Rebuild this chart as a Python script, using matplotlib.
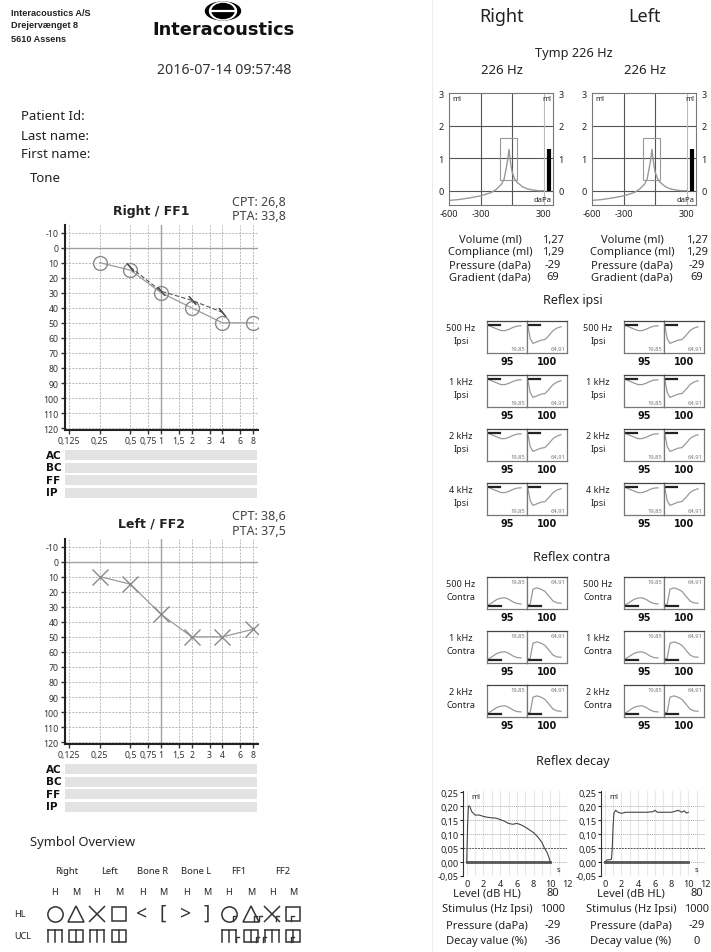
import numpy as np
import matplotlib
matplotlib.use('Agg')
import matplotlib.pyplot as plt
from matplotlib.patches import Ellipse, Rectangle

plt.rcParams['font.family'] = ['Noto Sans', 'DejaVu Sans']

# --- audiogram data ---
freqs = [0.25, 0.5, 1, 2, 4, 8]
right_ff1 = [10, 15, 30, 40, 50, 50]
right_aided_f = [0.5, 1, 2, 4]
right_aided = [13, 29, 35, 43]
left_ff2 = [10, 15, 35, 50, 50, 45]
freq_ticks = [0.125, 0.25, 0.5, 0.75, 1, 1.5, 2, 3, 4, 6, 8]
freq_labels = ['0,125', '0,25', '0,5', '0,75', '1', '1,5', '2', '3', '4', '6', '8']
db_ticks = list(range(-10, 121, 10))
row_labels = ['AC', 'BC', 'FF', 'IP']

# --- tympanometry data ---
tymp_pressure = [-600, -500, -400, -300, -200, -150, -100, -75, -55, -40, -29,
                 -18, 0, 25, 50, 100, 150, 200, 250, 300]
tymp_compliance = [-0.30, -0.27, -0.22, -0.16, -0.06, 0.04, 0.20, 0.36, 0.70, 0.98, 1.27,
                   0.95, 0.58, 0.36, 0.25, 0.12, 0.05, 0.02, 0.0, 0.0]
tymp_volume = 1.27
tymp_gradient_p = [-115, 45]
tymp_gradient_c = [0.32, 1.63]
tymp_stat_labels = ['Volume (ml)', 'Compliance (ml)', 'Pressure (daPa)', 'Gradient (daPa)']
tymp_stat_values = ['1,27', '1,29', '-29', '69']

# --- acoustic reflex data (normalised curves) ---
ipsi_rows = ['500 Hz', '1 kHz', '2 kHz', '4 kHz']
contra_rows = ['500 Hz', '1 kHz', '2 kHz']
reflex_levels = ['95', '100']
reflex_values = ['19,85', '64,91']
curve_t = [0.02, 0.08, 0.15, 0.25, 0.35, 0.45, 0.55, 0.65, 0.75, 0.85]
ipsi_95 = [0.88, 0.84, 0.80, 0.75, 0.70, 0.70, 0.74, 0.80, 0.84, 0.85]
ipsi_100 = [0.86, 0.45, 0.30, 0.35, 0.40, 0.42, 0.55, 0.70, 0.78, 0.82]
contra_95 = [0.12, 0.16, 0.22, 0.30, 0.34, 0.35, 0.30, 0.22, 0.17, 0.16]
contra_100 = [0.13, 0.15, 0.62, 0.66, 0.62, 0.55, 0.40, 0.25, 0.19, 0.18]

# --- reflex decay data ---
decay_t_right = [0, 0.1, 0.2, 0.35, 0.6, 1.0, 1.5, 2.0, 2.5, 3.0, 3.5, 4.0, 4.5, 5.0,
                 5.5, 6.0, 6.5, 7.0, 7.5, 8.0, 8.5, 9.0, 9.3, 9.6, 9.8, 10.0]
decay_right = [0.0, 0.13, 0.20, 0.20, 0.18, 0.168, 0.168, 0.163, 0.16, 0.158, 0.157, 0.152,
               0.146, 0.138, 0.135, 0.138, 0.133, 0.125, 0.115, 0.105, 0.09, 0.07, 0.05,
               0.035, 0.02, 0.0]
decay_t_left = [0, 0.3, 0.6, 0.8, 0.9, 1.0, 1.1, 1.3, 1.6, 2.0, 2.5, 3.0, 4.0, 5.0,
                5.8, 6.0, 6.3, 7.0, 8.0, 8.5, 8.8, 9.2, 9.5, 9.8, 10.0]
decay_left = [0.0, 0.008, 0.008, 0.01, 0.05, 0.13, 0.175, 0.185, 0.178, 0.174, 0.178,
              0.178, 0.178, 0.178, 0.18, 0.185, 0.178, 0.178, 0.178, 0.182, 0.185, 0.178,
              0.183, 0.175, 0.178]
decay_stim = [0, 10]
decay_labels = ['Level (dB HL)', 'Stimulus (Hz Ipsi)', 'Pressure (daPa)', 'Decay value (%)']
decay_values_right = ['80', '1000', '-29', '-36']
decay_values_left = ['80', '1000', '-29', '0']

W, H = 711, 953
fig = plt.figure(figsize=(W / 100, H / 100), dpi=100)
fig.patch.set_facecolor('white')
BOLD = dict(weight='bold', family='DejaVu Sans')


def px_axes(x0, y0, x1, y1):
    return fig.add_axes([x0 / W, 1 - y1 / H, (x1 - x0) / W, (y1 - y0) / H])


# overlay in pixel coordinates for report text
ov = fig.add_axes([0, 0, 1, 1], zorder=10)
ov.set_xlim(0, W)
ov.set_ylim(H, 0)
ov.axis('off')


def txt(x, y, s, size=8, ha='center', **kw):
    ov.text(x, y, s, fontsize=size, ha=ha, va='center', **kw)


# header
for i, line in enumerate(['Interacoustics A/S', 'Drejervænget 8', '5610 Assens']):
    txt(11, 13 + 13 * i, line, 6.6, ha='left', weight='bold', family='Liberation Sans', color='#222')
ov.add_patch(Ellipse((223, 12), 35, 18, color='black'))
ov.add_patch(Ellipse((223, 12), 27, 18, color='white'))
ov.add_patch(Ellipse((223, 12), 22, 15, color='black'))
ov.plot([211, 235], [12, 12], color='white', lw=1.6)
txt(223, 30, 'Interacoustics', 12.8, weight='bold', family='DejaVu Sans', color='#111')
txt(224, 71, '2016-07-14 09:57:48', 10.2, color='#333')
txt(21, 117, 'Patient Id:', 9.5, ha='left', color='#222')
txt(21, 136, 'Last name:', 9.5, ha='left', color='#222')
txt(21, 154, 'First name:', 9.5, ha='left', color='#222')
txt(30, 179, 'Tone', 9.5, ha='left', color='#222')
ov.plot([432, 432], [0, H], color='#eeeeee', lw=0.8)


def audiogram(top, values, marker, ms):
    ax = px_axes(65, top, 258, top + 205)
    ax.set_xscale('log', base=2)
    ax.set_xlim(0.114, 8.96)
    ax.set_ylim(121.2, -15)
    for f in freq_ticks:
        if f == 1:
            ax.axvline(f, color='#a0a0a0', lw=1.0, zorder=0)
        else:
            ax.axvline(f, color='#b0b0b0', lw=0.6, ls=(0, (2.5, 1.5)), zorder=0)
    for d in db_ticks:
        if d == 0:
            ax.axhline(d, color='#a0a0a0', lw=1.0, zorder=0)
        else:
            ax.axhline(d, color='#b0b0b0', lw=0.6, ls=(0, (2.5, 1.5)), zorder=0)
    ax.plot(freqs, values, color='#9a9a9a', lw=0.9, marker=marker, ms=ms,
            mfc='none', mec='#8a8a8a', mew=1.0)
    ax.set_xticks(freq_ticks)
    ax.set_xticklabels(freq_labels)
    ax.xaxis.set_minor_locator(plt.NullLocator())
    ax.set_yticks(db_ticks)
    ax.set_yticklabels([str(d) for d in db_ticks])
    ax.tick_params(labelsize=6.3, colors='#333', length=3, width=1, pad=1.5)
    for s in ['top', 'right']:
        ax.spines[s].set_visible(False)
    for s in ['left', 'bottom']:
        ax.spines[s].set_color('#222')
        ax.spines[s].set_linewidth(1.5)
    return ax


def bars(centers):
    for lab, yc in zip(row_labels, centers):
        ov.add_patch(Rectangle((65, yc - 5), 192, 10, color='#e3e3e3', lw=0))
        txt(46, yc, lab, 7.5, ha='left', color='#111', **BOLD)


ax_r = audiogram(226, right_ff1, 'o', 10)
ax_r.plot(right_aided_f, right_aided, color='#555', lw=0.8, ls=(0, (4, 2)),
          marker=(2, 2, 40), ms=8, mec='#555', mew=0.9)
txt(151, 211, 'Right / FF1', 9, color='#222', **BOLD)
txt(286, 203, 'CPT: 26,8', 9, ha='right', color='#444')
txt(286, 217, 'PTA: 33,8', 9, ha='right', color='#444')
bars([456, 468.5, 481, 493.5])

ax_l = audiogram(540, left_ff2, 'x', 11)
txt(151, 524, 'Left / FF2', 9, color='#222', **BOLD)
txt(286, 517, 'CPT: 38,6', 9, ha='right', color='#444')
txt(286, 532, 'PTA: 37,5', 9, ha='right', color='#444')
bars([770, 782.5, 795, 807.5])

# symbol overview
txt(30, 843, 'Symbol Overview', 9.3, ha='left', color='#222')
groups = ['Right', 'Left', 'Bone R', 'Bone L', 'FF1', 'FF2']
group_x = [67, 110, 153, 196, 239, 283]
hm_x = [55, 76, 97, 119, 142, 163, 186, 207, 229, 251, 272, 293]
for g, gx in zip(groups, group_x):
    txt(gx, 872, g, 6.8, color='#222')
for i, hx in enumerate(hm_x):
    txt(hx, 893, 'H' if i % 2 == 0 else 'M', 6.5, color='#222')
txt(20, 915, 'HL', 6.5, color='#222')
txt(23, 937, 'UCL', 6.5, color='#222')
sym_kw = dict(mfc='none', mec='#333', mew=1.1, ls='none')
hl_y = 915
for x, m, ms in [(55, 'o', 11), (76, '^', 11), (97, 'x', 11), (119, 's', 10),
                 (229, 'o', 11), (251, '^', 11), (272, 'x', 11), (293, 's', 10)]:
    ov.plot([x], [hl_y], marker=m, ms=ms, **sym_kw)
for x, ch in [(142, '<'), (163, '['), (186, '>'), (207, ']')]:
    txt(x, hl_y - 1, ch, 14, color='#333', weight='light')


def flag(x, y):
    ov.plot([x, x, x + 3], [y + 5, y, y], color='#333', lw=1.0)


for x in [233, 254, 259, 276, 291]:
    flag(x, hl_y + 2)


def ucl(x, y, boxed):
    if boxed:
        ov.add_patch(Rectangle((x - 7, y - 6), 14, 12, fill=False, ec='#333', lw=1.1))
        ov.plot([x, x], [y - 6, y + 6], color='#333', lw=1.1)
    else:
        ov.plot([x - 7, x + 7], [y - 6, y - 6], color='#333', lw=1.1)
        for dx in [-7, 0, 7]:
            ov.plot([x + dx, x + dx], [y - 6, y + 6], color='#333', lw=1.1)


for x, b in [(55, False), (76, True), (97, False), (119, True),
             (229, False), (251, True), (272, False), (293, True)]:
    ucl(x, 937, b)
for x in [236, 256, 263, 291]:
    flag(x, 938)

# right column headings
txt(502, 17, 'Right', 13, color='#222')
txt(645, 17, 'Left', 13, color='#222')
txt(574, 53, 'Tymp 226 Hz', 9.2, color='#222')
txt(502, 71, '226 Hz', 9.5, color='#222')
txt(645, 71, '226 Hz', 9.5, color='#222')


def tymp(x0):
    ax = px_axes(x0, 94, x0 + 104, 206)
    ax.set_xlim(-600, 390)
    ax.set_ylim(-0.44, 3)
    for c in [0, 1, 2]:
        ax.axhline(c, color='#555', lw=0.8, zorder=0)
    for p in [-300, 0]:
        ax.axvline(p, color='#555', lw=0.8, zorder=0)
    ax.axvline(300, color='#bbbbbb', lw=0.8, zorder=0)
    ax.plot(tymp_pressure, tymp_compliance, color='#999', lw=1)
    ax.add_patch(Rectangle((tymp_gradient_p[0], tymp_gradient_c[0]),
                           tymp_gradient_p[1] - tymp_gradient_p[0],
                           tymp_gradient_c[1] - tymp_gradient_c[0],
                           fill=False, ec='#999', lw=0.8))
    ax.plot([352, 352], [0, tymp_volume], color='black', lw=3, solid_capstyle='butt')
    ax.set_yticks([0, 1, 2, 3])
    ax.set_yticklabels(['0', '1', '2', '3'])
    ax.set_xticks([-600, -300, 300])
    ax.set_xticklabels(['-600', '-300', '300'])
    ax.tick_params(axis='y', labelright=True, length=0, labelsize=6.5, pad=4, colors='#222')
    ax.tick_params(axis='x', length=0, labelsize=6.5, pad=3, colors='#222')
    for s in ax.spines.values():
        s.set_color('#777')
        s.set_linewidth(0.8)
    ax.text(-570, 2.82, 'ml', fontsize=5.5, va='center', ha='left', color='#222')
    ax.text(375, 2.82, 'ml', fontsize=5.5, va='center', ha='right', color='#222')
    ax.text(375, -0.28, 'daPa', fontsize=5.5, va='center', ha='right', color='#222')


tymp(449)
tymp(592)


def stats(lab_x, val_x, ys, labels, values):
    for y, lab, val in zip(ys, labels, values):
        txt(lab_x, y, lab, 8, color='#222')
        txt(val_x, y, val, 8, color='#222')


stats(490, 553, [240, 253, 266, 278], tymp_stat_labels, tymp_stat_values)
stats(632, 697, [240, 253, 266, 278], tymp_stat_labels, tymp_stat_values)


def reflex_box(x0, top, curve, ipsi, value):
    ax = px_axes(x0, top, x0 + 40, top + 32)
    ax.set_xlim(0, 1)
    ax.set_ylim(0, 1)
    ax.set_xticks([])
    ax.set_yticks([])
    for s in ax.spines.values():
        s.set_color('#777')
        s.set_linewidth(0.9)
    ax.spines['top'].set_color('#444')
    ax.plot(curve_t, curve, color='#999', lw=0.9)
    if ipsi:
        ax.plot([0.02, 0.32], [0.86, 0.86], color='#222', lw=1.6)
        ax.text(0.96, 0.06, value, fontsize=4.2, ha='right', va='bottom', color='#777')
    else:
        ax.plot([0.02, 0.35], [0.1, 0.1], color='#222', lw=1.6)
        ax.text(0.96, 0.94, value, fontsize=4.2, ha='right', va='top', color='#777')


def reflex_block(tops, rows, kind):
    curves = [ipsi_95, ipsi_100] if kind == 'Ipsi' else [contra_95, contra_100]
    for top, row in zip(tops, rows):
        for lab_x, bx in [(461, 487), (598, 624)]:
            txt(lab_x, top + 7, row, 6.5, color='#222')
            txt(lab_x, top + 20, kind, 6.5, color='#222')
            for k in range(2):
                reflex_box(bx + 40 * k, top, curves[k], kind == 'Ipsi', reflex_values[k])
                txt(bx + 40 * k + 20, top + 40, reflex_levels[k], 7, color='#111', **BOLD)


txt(573, 301, 'Reflex ipsi', 9, color='#222')
reflex_block([322, 376, 430, 484], ipsi_rows, 'Ipsi')
txt(572, 558, 'Reflex contra', 9, color='#222')
reflex_block([578, 632, 686], contra_rows, 'Contra')
txt(573, 762, 'Reflex decay', 9, color='#222')


def decay(x0, t, v):
    ax = px_axes(x0, 792, x0 + 104, 877)
    ax.set_xlim(-0.45, 12)
    ax.set_ylim(-0.05, 0.254)
    for s in range(0, 13):
        ax.axvline(s, color='#e8e8e8', lw=0.8, zorder=0)
    for c in [0.2, 0.15, 0.1, 0.0]:
        ax.axhline(c, color='#aaa', lw=0.7, ls=(0, (1, 1)), zorder=1)
    ax.axhline(0.05, color='#555', lw=0.7, ls=(0, (2, 1)), zorder=1)
    ax.plot(decay_stim, [0, 0], color='#555', lw=2)
    ax.plot(t, v, color='#444', lw=0.8)
    yt = [-0.05, 0.0, 0.05, 0.1, 0.15, 0.2, 0.25]
    ax.set_yticks(yt)
    ax.set_yticklabels([f'{y:.2f}'.replace('.', ',') for y in yt])
    ax.set_xticks(range(0, 13, 2))
    ax.tick_params(axis='y', labelsize=6.5, length=2, pad=1, colors='#222')
    ax.tick_params(axis='x', labelsize=6.5, length=0, pad=2, colors='#222')
    for s in ['top', 'right', 'bottom']:
        ax.spines[s].set_visible(False)
    ax.spines['left'].set_color('#333')
    ax.spines['left'].set_linewidth(0.8)
    ax.text(0.5, 0.235, 'ml', fontsize=5.5, va='center', ha='left', color='#222')
    ax.text(11, -0.028, 's', fontsize=5.5, va='center', ha='center', color='#222')


decay(463, decay_t_right, decay_right)
decay(601, decay_t_left, decay_left)
stats(487, 553, [894, 910, 926, 942], decay_labels, decay_values_right)
stats(631, 697, [894, 910, 926, 942], decay_labels, decay_values_left)

fig.savefig('out.png', dpi=100)
